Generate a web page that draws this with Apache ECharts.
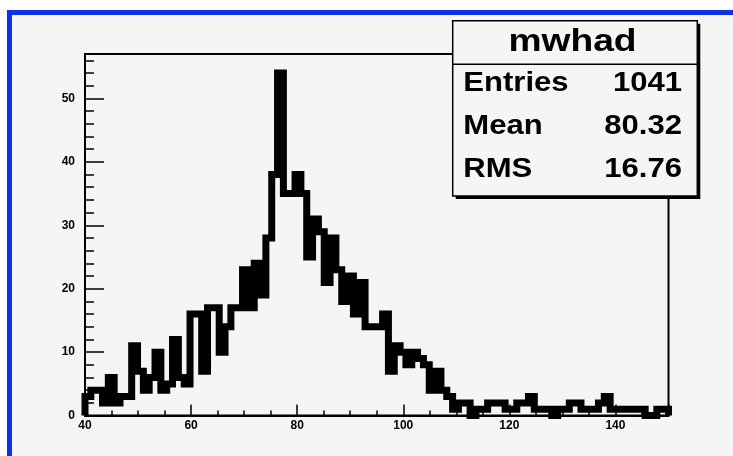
<!DOCTYPE html>
<html>
<head>
<meta charset="utf-8">
<script src="https://cdn.jsdelivr.net/npm/echarts@6/dist/echarts.min.js"></script>
<style>
  html, body { margin: 0; padding: 0; background: #ffffff; }
  .pad {
    position: absolute; left: 7px; top: 10px; width: 721px; height: 441px;
    background: #f5f5f5;
    border-top: 5px solid #0d31e8; border-left: 5px solid #0d31e8;
  }
  #chart { position: absolute; left: 0; top: 0; width: 733px; height: 456px; }
</style>
</head>
<body>
<div class="pad"></div>
<div id="chart"></div>
<script>
// histogram mwhad: 100 bins of 1.1 from 40 to 150
const binLow = 40;
const binHigh = 150;
const binWidth = 1.1;
const counts = [
  3, 4, 4, 2, 6, 2, 3, 3, 11, 7,
  4, 6, 10, 4, 5, 12, 6, 5, 16, 16,
  7, 17, 17, 10, 14, 17, 17, 23, 17, 24,
  19, 28, 38, 54, 35, 35, 38, 35, 25, 31,
  29, 21, 28, 23, 18, 22, 16, 21, 14, 14,
  14, 16, 7, 11, 10, 8, 10, 9, 8, 4,
  7, 4, 3, 1, 2, 2, 0, 1, 1, 2,
  2, 2, 1, 1, 2, 2, 3, 1, 1, 1,
  0, 1, 1, 2, 2, 1, 1, 1, 2, 3,
  1, 1, 1, 1, 1, 1, 0, 0, 1, 1
];

const xTickLabels = [40, 60, 80, 100, 120, 140];
const yTickLabels = [0, 10, 20, 30, 40, 50];
const yMax = 57;

const statsTitle = "mwhad";
const statsNames = ["Entries", "Mean", "RMS"];
const statsValues = ["1041", "80.32", "16.76"];

// step outline: start at zero, one point per bin low edge, close back to zero
const histData = [[binLow, 0]];
counts.forEach((c, i) => histData.push([binLow + i * binWidth, c]));
histData.push([binHigh, counts[counts.length - 1]]);
histData.push([binHigh, 0]);

const labelFont = {
  color: "#000",
  fontFamily: "Liberation Sans",
  fontWeight: "bold",
  fontSize: 12,
};

const chart = echarts.init(document.getElementById("chart"), null, { renderer: "canvas" });

const boxX = 452.7, boxY = 20.7, boxW = 244.6, boxH = 175.3;
const rowY = [83.3, 126.7, 170];
const statFont = "bold 27px 'Liberation Sans'";

const graphic = [
  { type: "rect", z: 100, shape: { x: boxX + 3, y: boxY + 3, width: boxW, height: boxH }, style: { fill: "#000" } },
  { type: "rect", z: 101, shape: { x: boxX, y: boxY, width: boxW, height: boxH }, style: { fill: "#f5f5f5", stroke: "#000", lineWidth: 1.5 } },
  { type: "line", z: 102, shape: { x1: boxX, y1: 64.3, x2: boxX + boxW, y2: 64.3 }, style: { stroke: "#000", lineWidth: 1.5 } },
  {
    type: "text", z: 102, x: 572.5, y: 42, scaleX: 1.2,
    style: { text: statsTitle, x: 0, y: 0, font: "bold 31px 'Liberation Sans'", fill: "#000", textAlign: "center", textVerticalAlign: "middle" },
  },
];
statsNames.forEach((name, i) => {
  graphic.push({
    type: "text", z: 102, x: 463.3, y: rowY[i], scaleX: 1.15,
    style: { text: name, x: 0, y: 0, font: statFont, fill: "#000", textAlign: "left", textVerticalAlign: "middle" },
  });
  graphic.push({
    type: "text", z: 102, x: 682, y: rowY[i], scaleX: 1.15,
    style: { text: statsValues[i], x: 0, y: 0, font: statFont, fill: "#000", textAlign: "right", textVerticalAlign: "middle" },
  });
});

const option = {
  animation: false,
  backgroundColor: "transparent",
  grid: {
    left: 85, right: 64.5, top: 54, bottom: 40.4,
    show: true, borderColor: "#000", borderWidth: 2, backgroundColor: "transparent",
  },
  xAxis: [
    {
      type: "value", position: "bottom", min: binLow, max: binHigh, interval: 20,
      axisLine: { show: true, lineStyle: { color: "#000", width: 2 } },
      axisTick: { show: true, inside: true, length: 11, lineStyle: { color: "#000", width: 1.5 } },
      axisLabel: {
        ...labelFont, margin: 4,
        formatter: (v) => (xTickLabels.includes(v) ? String(v) : ""),
      },
      splitLine: { show: false },
    },
    {
      type: "value", position: "bottom", min: binLow, max: binHigh, interval: 5,
      axisLine: { show: false },
      axisTick: { show: true, inside: true, length: 5, lineStyle: { color: "#000", width: 1.5 } },
      axisLabel: { show: false },
      splitLine: { show: false },
    },
  ],
  yAxis: [
    {
      type: "value", position: "left", min: 0, max: yMax, interval: 10,
      axisLine: { show: true, lineStyle: { color: "#000", width: 2 } },
      axisTick: { show: true, inside: true, length: 19, lineStyle: { color: "#000", width: 1.5 } },
      axisLabel: {
        ...labelFont, margin: 10,
        formatter: (v) => (yTickLabels.includes(v) ? String(v) : ""),
      },
      splitLine: { show: false },
    },
    {
      type: "value", position: "left", min: 0, max: yMax, interval: 2,
      axisLine: { show: false },
      axisTick: { show: true, inside: true, length: 9, lineStyle: { color: "#000", width: 1.5 } },
      axisLabel: { show: false },
      splitLine: { show: false },
    },
  ],
  series: [
    {
      name: "mwhad",
      type: "line",
      xAxisIndex: 0,
      yAxisIndex: 0,
      data: histData,
      step: "end",
      symbol: "none",
      showSymbol: false,
      clip: false,
      silent: true,
      z: 5,
      lineStyle: { color: "#000", width: 7, join: "miter", cap: "butt" },
    },
  ],
  graphic: graphic,
};

chart.setOption(option);
</script>
</body>
</html>
